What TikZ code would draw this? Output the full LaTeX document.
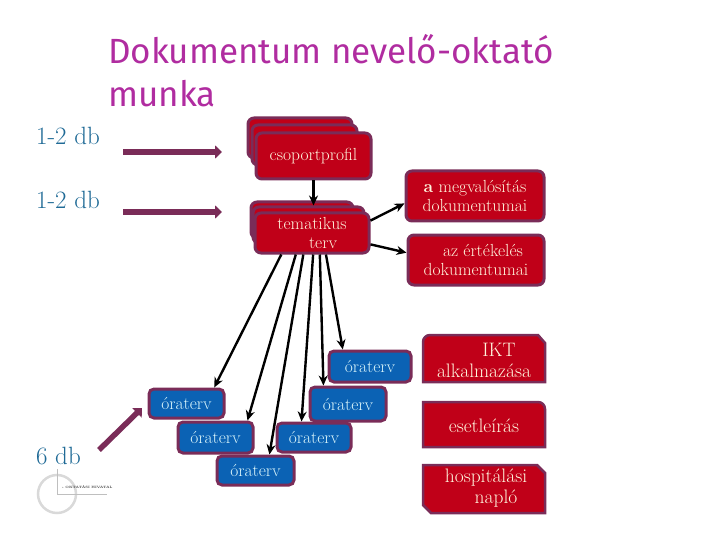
\documentclass[tikz,border=0pt]{standalone}
\usepackage{fontspec}
\newfontfamily\titlefont{Fira Sans}
\usetikzlibrary{arrows.meta}
\definecolor{boxred}{HTML}{C00018}
\definecolor{boxblue}{HTML}{0B62B4}
\definecolor{boxedge}{HTML}{7A2C58}
\definecolor{cream}{HTML}{FFF4DC}
\definecolor{paleblue}{HTML}{D8F4FA}
\definecolor{dbblue}{HTML}{1F6A96}
\definecolor{titlepurple}{HTML}{B02CA0}
\begin{document}
\begin{tikzpicture}[x=1pt, y=-1pt,
    redbox/.style={draw=boxedge, fill=boxred, line width=3pt, rounded corners=6pt, text=cream,
        inner sep=0pt, align=center, font=\fontsize{17.5}{19}\selectfont},
    bluebox/.style={draw=boxedge, fill=boxblue, line width=3pt, rounded corners=5pt, text=paleblue,
        inner sep=0pt, font=\fontsize{17.5}{19}\selectfont},
    sidebox/.style={draw=boxedge, fill=boxred, line width=2.5pt},
    sidetext/.style={text=cream, inner sep=0pt, align=center, font=\fontsize{19.5}{21}\selectfont},
    dblabel/.style={text=dbblue, inner sep=0pt, anchor=base west, font=\fontsize{25}{28}\selectfont},
    bigarrow/.style={draw=boxedge, line width=5.5pt, -{Triangle[width=13pt, length=7pt]}},
    flow/.style={-{Stealth[length=10pt, width=9pt]}, black, line width=2.4pt}]
    \useasboundingbox (0,0) rectangle (720,540);

    % Title
    \node[anchor=base west, inner sep=0pt, text=titlepurple, font=\titlefont\fontsize{35}{43}\selectfont,
        align=left] (title) at (108,107) {Dokumentum nevelő-oktató\\munka};

    % Labels on the left
    \node[dblabel] (db1) at (36,145) {\oldstylenums{1}-\oldstylenums{2} db};
    \node[dblabel] (db2) at (36,209) {\oldstylenums{1}-\oldstylenums{2} db};
    \node[dblabel] (db3) at (36,464) {\oldstylenums{6} db};

    % Stacked boxes
    \node[redbox, minimum width=104, minimum height=40] (profilc) at (300,138) {};
    \node[redbox, minimum width=105, minimum height=40] (profilb) at (304.5,145) {};
    \node[redbox, minimum width=115, minimum height=46] (profil) at (313.5,156) {csoportprofil};
    \node[redbox, minimum width=102, minimum height=36] (tervc) at (302,220) {};
    \node[redbox, minimum width=111, minimum height=36] (tervb) at (308.5,225) {};
    \node[redbox, minimum width=114, minimum height=40] (terv) at (312,233) {tematikus\\\hspace*{22pt}terv};

    \node[redbox, minimum width=138, minimum height=50] (megval) at (475,196) {\textbf{a} megvalósítás\\dokumentumai};
    \node[redbox, minimum width=136, minimum height=50] (ertek) at (476,260) {\hspace*{14pt}az értékelés\\dokumentumai};

    % Lesson plans
    \foreach \nm/\cx/\cy/\bw/\bh in {oraa/370/366.5/82/31, orab/348/404/76/34, orac/186.5/403.5/75/29,
        orad/215.5/437.5/75/31, orae/314/437.5/74/29, oraf/255.5/470.5/77/29}
        \node[bluebox, minimum width=\bw, minimum height=\bh] (\nm) at (\cx,\cy) {óraterv};

    % Boxes on the right
    \draw[sidebox] (423,382) -- (423,343) [rounded corners=7pt] -- (423,335) [sharp corners] -- (538,335) -- (545,343) -- (545,382) -- cycle;
    \node[sidetext] (ikt) at (484,360) {\hspace*{30pt}IKT\\alkalmazása};
    \draw[sidebox] (423,447) -- (423,402) [rounded corners=7pt] -- (545,402) [sharp corners] -- (545,447) -- cycle;
    \node[sidetext] (eset) at (484,426) {esetleírás};
    \draw[sidebox] (423,505) -- (423,465) -- (537,465) -- (545,473) -- (545,513) -- (431,513) -- cycle;
    \node[sidetext] (hosp) at (486,488) {hospitálási\\\hspace*{20pt}napló};

    % Thick arrows
    \coordinate (a1) at (123,152);
    \coordinate (a2) at (222,152);
    \coordinate (b1) at (123,212);
    \coordinate (b2) at (222,212);
    \coordinate (c1) at (99,450);
    \coordinate (c2) at (142,408);
    \draw[bigarrow] (a1) -- (a2);
    \draw[bigarrow] (b1) -- (b2);
    \draw[bigarrow] (c1) -- (c2);

    % Black arrows
    \draw[flow] (profil.south) -- (profil.south |- tervb.north);
    \draw[flow] (terv.12) -- (megval.186);
    \draw[flow] (terv.-11) -- (ertek.174);
    \foreach \from/\nm/\to in {-145/orac/30, -127/orad/28, -112/oraf/49, -87/orae/128, -70/orab/143, -57/oraa/148}
        \draw[flow] (terv.\from) -- (\nm.\to);

    % Logo
    \node[draw=gray!30, line width=2.5pt, circle, minimum size=38, inner sep=0pt] (ring) at (57,494) {};
    \coordinate (h1) at (57,469);
    \coordinate (h2) at (57,494);
    \coordinate (h3) at (107,494);
    \draw[gray!50, line width=0.5pt] (h1) -- (h2) -- (h3);
    \node[anchor=west, inner sep=0pt, text=black!80, font=\bfseries\fontsize{3.2}{4}\selectfont] (logo) at (61,487) {\textbullet\,OKTATÁSI HIVATAL};
\end{tikzpicture}
\end{document}
